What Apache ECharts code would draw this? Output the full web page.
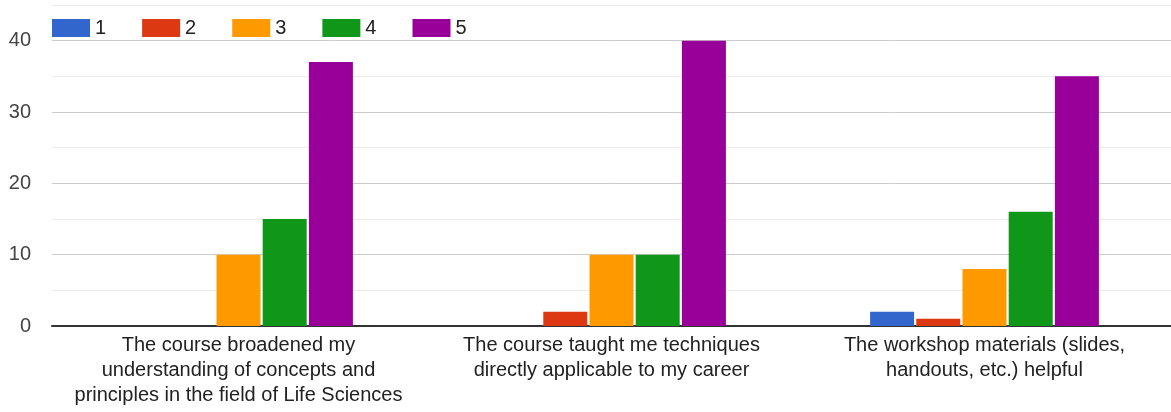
<!DOCTYPE html>
<html><head><meta charset="utf-8">
<script src="https://cdn.jsdelivr.net/npm/echarts@6/dist/echarts.min.js"></script>
<style>html,body{margin:0;padding:0;background:#fff}#c{width:1171px;height:412px}</style>
</head><body><div id="c"></div>
<script>
const categories = [
  "The course broadened my\nunderstanding of concepts and\nprinciples in the field of Life Sciences",
  "The course taught me techniques\ndirectly applicable to my career",
  "The workshop materials (slides,\nhandouts, etc.) helpful"
];
const seriesNames = ["1", "2", "3", "4", "5"];
const values1 = [0, 0, 2];
const values2 = [0, 2, 1];
const values3 = [10, 10, 8];
const values4 = [15, 10, 16];
const values5 = [37, 40, 35];
const colors = ["#3366cc", "#dc3912", "#ff9900", "#109618", "#990099"];
const allValues = [values1, values2, values3, values4, values5];

const chart = echarts.init(document.getElementById('c'));
chart.setOption({
  animation: false,
  textStyle: { fontFamily: 'Arial, "Liberation Sans", sans-serif' },
  legend: {
    left: 47, top: 13, icon: 'rect', itemWidth: 38, itemHeight: 18, itemGap: 36,
    textStyle: { fontSize: 20, color: '#222' },
    data: seriesNames
  },
  grid: { left: 52, right: 0, top: 5, bottom: 86, containLabel: false },
  xAxis: {
    type: 'category', data: categories,
    axisTick: { show: false },
    axisLine: { lineStyle: { color: '#333', width: 2 } },
    axisLabel: { fontSize: 20, color: '#222', lineHeight: 25, margin: 7, interval: 0 }
  },
  yAxis: {
    type: 'value', min: 0, max: 45, interval: 5,
    axisLabel: { fontSize: 20, color: '#444', margin: 21,
      formatter: v => (v % 10 === 0 ? String(v) : '') },
    splitLine: { lineStyle: { color: ['#cccccc', '#ebebeb'], width: 1 } },
    axisLine: { show: false }, axisTick: { show: false }
  },
  series: seriesNames.map((n, i) => ({
    name: n, type: 'bar', data: allValues[i],
    itemStyle: { color: colors[i] },
    barWidth: 44, barGap: '5%'
  }))
});
</script></body></html>
